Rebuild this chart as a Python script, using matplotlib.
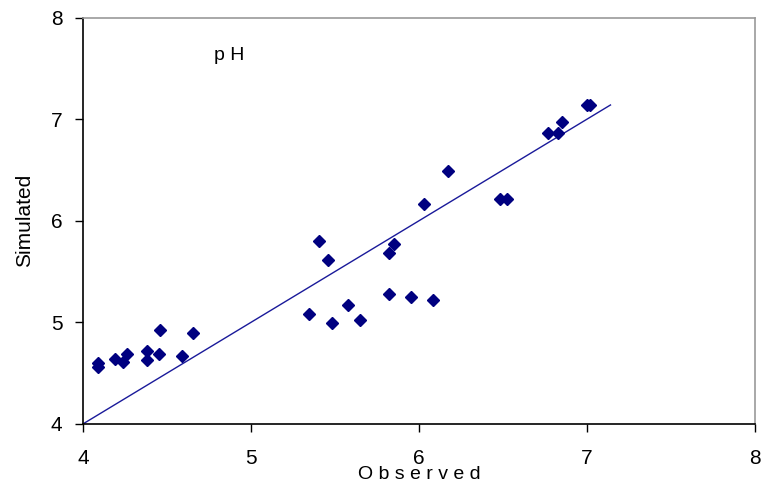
import matplotlib
matplotlib.use("Agg")
import matplotlib.pyplot as plt

observed = [4.089, 4.089, 4.189, 4.238, 4.258, 4.378, 4.378, 4.451, 4.459, 4.586, 4.652,
            5.342, 5.406, 5.459, 5.479, 5.575, 5.650, 5.821, 5.821, 5.852, 5.950, 6.031,
            6.085, 6.174, 6.482, 6.525, 6.766, 6.826, 6.853, 7.000, 7.020]
simulated = [4.600, 4.560, 4.637, 4.611, 4.684, 4.719, 4.625, 4.684, 4.920, 4.667, 4.897,
             5.084, 5.800, 5.610, 4.989, 5.166, 5.019, 5.679, 5.275, 5.773, 5.245, 6.165,
             5.219, 6.487, 6.217, 6.217, 6.864, 6.864, 6.969, 7.137, 7.137]
line_x = [4.0, 7.14]
line_y = [4.0, 7.14]
x_ticks = [4, 5, 6, 7, 8]
y_ticks = [4, 5, 6, 7, 8]

plt.rcParams['font.family'] = ['Liberation Sans', 'DejaVu Sans']
fig = plt.figure(figsize=(7.75, 4.91), dpi=100)
ax = fig.add_axes([0.1075, 0.137, 0.8665, 0.827])
ax.plot(line_x, line_y, color='#1a1a9a', lw=1.0)
ax.plot(observed, simulated, linestyle='none', marker='D', markersize=6.5,
        color='#000080', markeredgecolor='#000080')
ax.set_xlim(4, 8)
ax.set_ylim(4, 8)
ax.set_xticks(x_ticks)
ax.set_yticks(y_ticks)
ax.tick_params(axis='both', labelsize=15, length=6, width=1, color='black', direction='out')
ax.tick_params(axis='x', pad=12)
ax.tick_params(axis='y', pad=9)
ax.spines['left'].set_color('black')
ax.spines['bottom'].set_color('black')
ax.spines['top'].set_color('#999999')
ax.spines['right'].set_color('#999999')
for s in ax.spines.values():
    s.set_linewidth(1.2)
ax.set_xlabel('O b s e r v e d', fontsize=14, labelpad=-1)
ax.set_ylabel('Simulated', fontsize=15, labelpad=12)
ax.text(4.87, 7.63, 'p H', fontsize=14, ha='center', va='center')
fig.savefig('out.png', dpi=100)
